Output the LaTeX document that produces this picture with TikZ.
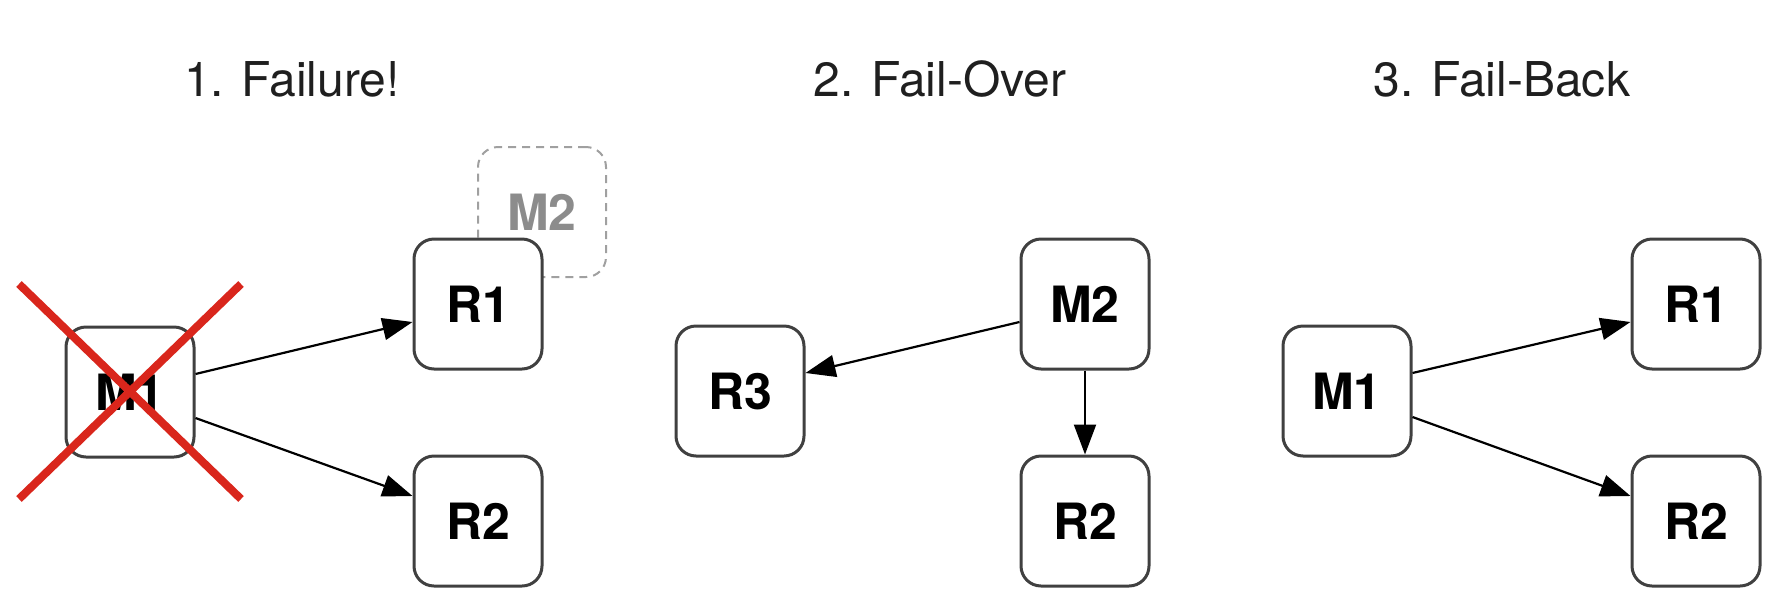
\documentclass[tikz,border=0pt]{standalone}
\usepackage{fontspec}
\setmainfont{TeX Gyre Heros}
\usetikzlibrary{arrows.meta,calc}
\definecolor{boxline}{HTML}{404040}
\definecolor{ghost}{HTML}{8C8C8C}
\definecolor{ghostline}{HTML}{A0A0A0}
\definecolor{xred}{HTML}{D9261C}
\begin{document}
\begin{tikzpicture}[x=0.5pt,y=-0.5pt,
  srv/.style={draw=boxline, line width=1.5pt, rounded corners=10pt, fill=white,
    minimum width=64pt, minimum height=65pt, inner sep=0pt,
    font=\fontsize{25}{29}\selectfont\bfseries},
  ghostbox/.style={draw=ghostline, dash pattern=on 4pt off 3pt, line width=1pt,
    rounded corners=10pt, minimum width=64pt, minimum height=65pt, inner sep=0pt,
    text=ghost, font=\fontsize{25}{29}\selectfont\bfseries},
  link/.style={-{Triangle[length=15pt,width=11pt]}, line width=1.1pt, black},
  paneltitle/.style={font=\fontsize{24}{28}\selectfont, text=black!88, anchor=base},
  cross/.style={draw=xred, line width=4pt}]
\useasboundingbox (0,0) rectangle (1779,606);

% titles
\node[paneltitle] (t1) at (292,96) {1. Failure!};
\node[paneltitle] (t2) at (940,96) {2. Fail-Over};
\node[paneltitle] (t3) at (1502,96) {3. Fail-Back};

% panel 1
\node[ghostbox] (g2) at (542,212) {M2};
\node[srv] (a1) at (130,392) {M1};
\node[srv] (ar1) at (478,304) {R1};
\node[srv] (ar2) at (478,521) {R2};
\draw[link] ([yshift=9pt]a1.east) -- ([yshift=-9pt]ar1.west);
\draw[link] ([yshift=-13pt]a1.east) -- ([yshift=12.5pt]ar2.west);
\draw[cross] (19,284) -- (241,499);
\draw[cross] (241,284) -- (19,499);

% panel 2
\node[srv] (br3) at (740,391) {R3};
\node[srv] (bm2) at (1085,304) {M2};
\node[srv] (br2) at (1085,521) {R2};
\draw[link] ([yshift=-9pt]bm2.west) -- ([yshift=9pt]br3.east);
\draw[link] (bm2.south) -- (br2.north);

% panel 3
\node[srv] (c1) at (1347,391) {M1};
\node[srv] (cr1) at (1696,304) {R1};
\node[srv] (cr2) at (1696,521) {R2};
\draw[link] ([yshift=9pt]c1.east) -- ([yshift=-9pt]cr1.west);
\draw[link] ([yshift=-13pt]c1.east) -- ([yshift=12.5pt]cr2.west);
\end{tikzpicture}
\end{document}
